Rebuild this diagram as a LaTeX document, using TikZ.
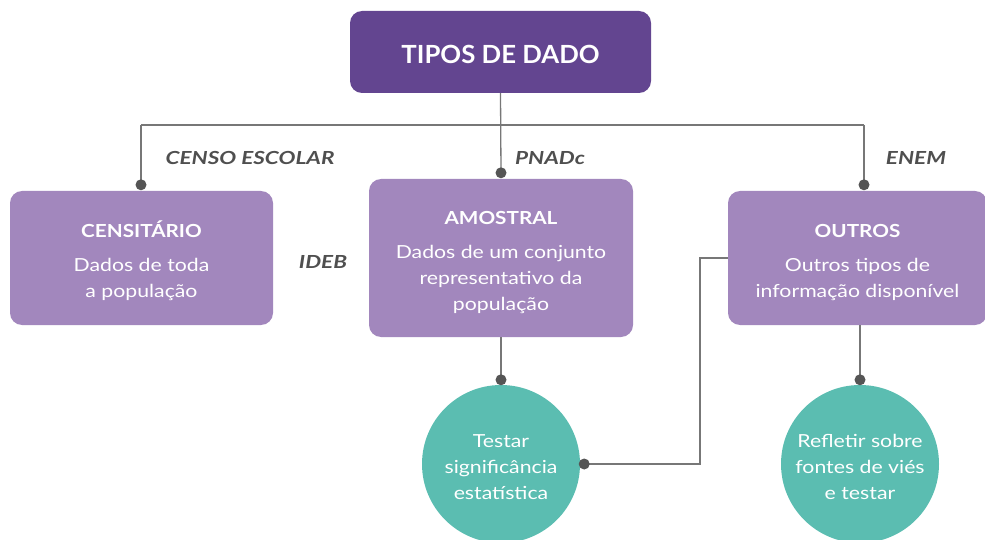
\documentclass[tikz,border=0pt]{standalone}
\usepackage{fontspec}
\setmainfont{Lato}
\newfontfamily\topf{Lato}[FakeStretch=1.03]
\newfontfamily\bodyf{Lato}[FakeStretch=1.18]
\newfontfamily\titlef{Lato}[FakeStretch=1.15]
\newfontfamily\labf{Lato}[FakeStretch=1.25]
\definecolor{topvio}{HTML}{634590}
\definecolor{boxvio}{HTML}{A287BD}
\definecolor{teal}{HTML}{5BBDB1}
\definecolor{linegray}{HTML}{777777}
\definecolor{dotgray}{HTML}{555555}
\definecolor{labgray}{HTML}{4F4F4F}
\tikzset{
  topbox/.style={draw=none,fill=topvio,rounded corners=12pt,minimum width=301pt,minimum height=82pt},
  toptext/.style={text=white,font=\topf\fontsize{25}{30}\selectfont\bfseries},
  catbox/.style={draw=none,fill=boxvio,rounded corners=12pt},
  boxtext/.style={text=white,align=center,font=\bodyf\fontsize{18}{26}\selectfont},
  bubble/.style={circle,fill=teal,minimum size=158pt,inner sep=0pt},
  bubtext/.style={text=white,align=center,font=\bodyf\fontsize{18}{26}\selectfont},
  conn/.style={draw=linegray,line width=1.3pt},
  dotm/.style={circle,fill=dotgray,inner sep=0pt,minimum size=11pt},
  lab/.style={text=labgray,font=\labf\fontsize{18}{22}\selectfont\bfseries\itshape}
}
\newcommand{\bt}[1]{{\titlef\bfseries #1}}
\begin{document}
\begin{tikzpicture}[x=1pt,y=-1pt]
\useasboundingbox (0,0) rectangle (985,540);
% shapes
\node[topbox] (top) at (500.5,52) {};
\node[catbox,minimum width=263pt,minimum height=134pt] (cens) at (141.5,258) {};
\node[catbox,minimum width=264pt,minimum height=158pt] (amos) at (501,258) {};
\node[catbox,minimum width=259pt,minimum height=134pt] (outros) at (857.5,258) {};
\node[bubble] (c1) at (501,464) {};
\node[bubble] (c2) at (860,464) {};
% texts
\node[toptext] (topT) at ([yshift=-2pt]top.center) {TIPOS DE DADO};
\node[boxtext] (censT) at ([yshift=-3pt]cens.center) {\bt{CENSITÁRIO}\\[8pt]Dados de toda\\a população};
\node[boxtext] (amosT) at ([yshift=-4.5pt]amos.center) {\bt{AMOSTRAL}\\[8pt]Dados de um conjunto\\representativo da\\população};
\node[boxtext] (outrosT) at ([yshift=-4.5pt]outros.center) {\bt{OUTROS}\\[8pt]Outros tipos de\\informação disponível};
\node[bubtext] (c1T) at ([yshift=-3pt]c1.center) {Testar\\significância\\estatística};
\node[bubtext] (c2T) at ([yshift=-3pt]c2.center) {Refletir sobre\\fontes de viés\\e testar};
% labels
\node[lab] (l1) at (250,158) {CENSO ESCOLAR};
\node[lab] (l2) at (550,158) {PNADc};
\node[lab] (l3) at (916,158) {ENEM};
\node[lab] (l4) at (323,262) {IDEB};
% connectors
\coordinate (busL) at (141,125);
\coordinate (busR) at (864,125);
\coordinate (elb) at (700,258);
\draw[conn] (busL) -- (busR);
\draw[conn] (top.south) -- ([yshift=6pt]amos.north);
\draw[conn] (busL) -- ([yshift=6pt]busL |- cens.north);
\draw[conn] (busR) -- ([yshift=6pt]busR |- outros.north);
\draw[conn] (amos.south) -- ([yshift=5pt]c1.north);
\draw[conn] (outros.south -| c2) -- ([yshift=5pt]c2.north);
\draw[conn] (outros.west) -- (elb) |- ([xshift=4pt]c1.east);
% dots
\node[dotm] (d1) at ([yshift=6pt]busL |- cens.north) {};
\node[dotm] (d2) at ([yshift=6pt]amos.north) {};
\node[dotm] (d3) at ([yshift=6pt]busR |- outros.north) {};
\node[dotm] (d4) at ([yshift=5pt]c1.north) {};
\node[dotm] (d5) at ([yshift=5pt]c2.north) {};
\node[dotm] (d6) at ([xshift=4pt]c1.east) {};
\end{tikzpicture}
\end{document}
